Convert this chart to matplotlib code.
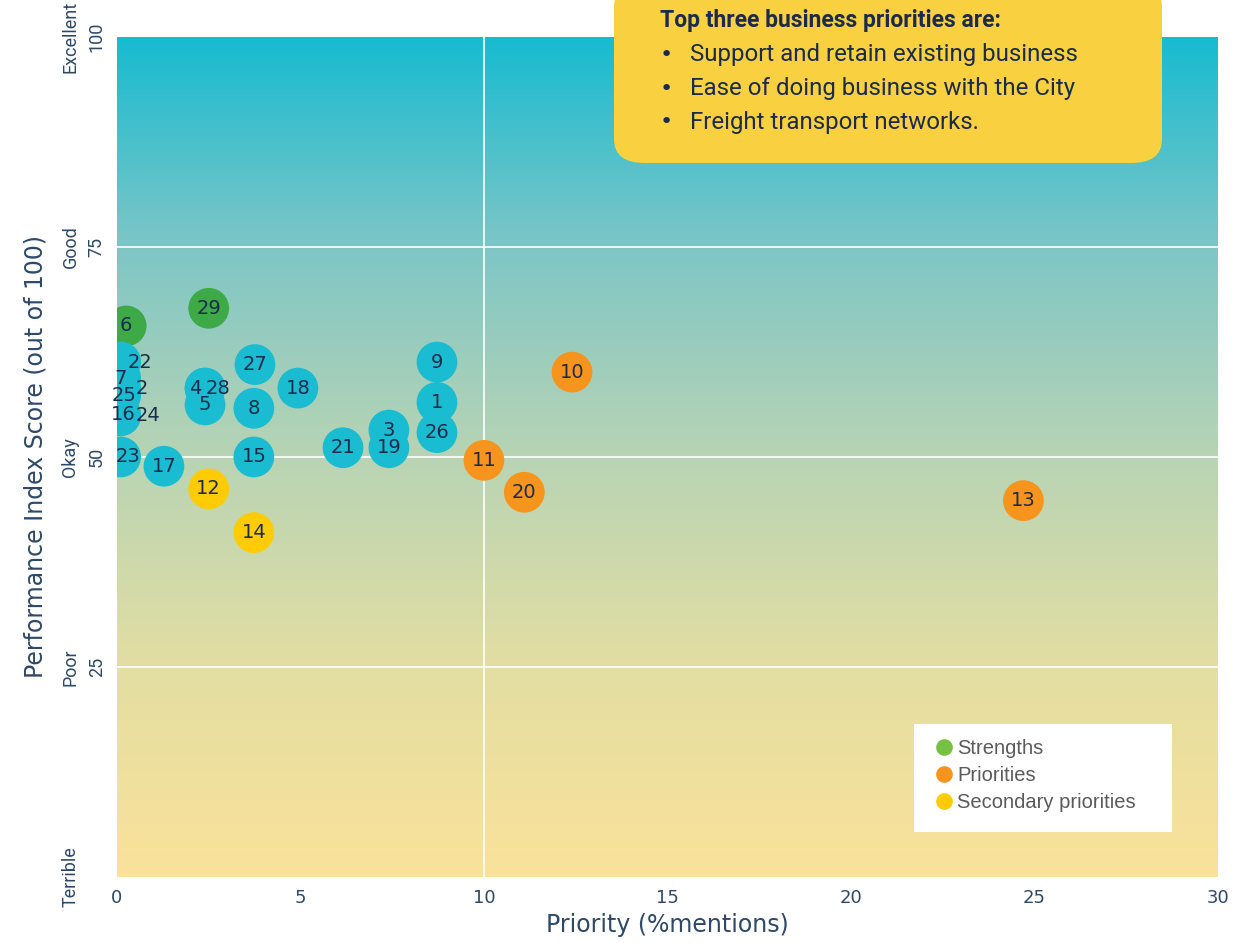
import matplotlib
matplotlib.use('Agg')
import matplotlib.pyplot as plt
import numpy as np
from matplotlib.colors import LinearSegmentedColormap
from matplotlib.patches import FancyBboxPatch, Rectangle
from matplotlib.lines import Line2D

# Data
ids = [1, 2, 3, 4, 5, 6, 7, 8, 9, 10, 11, 12, 13, 14, 15,
       16, 17, 18, 19, 20, 21, 22, 23, 24, 25, 26, 27, 28, 29]
priority = [8.72, 0.1, 7.41, 2.4, 2.4, 0.25, 0.1, 3.73, 8.72, 12.4, 10.0, 2.5, 24.7, 3.73, 3.73,
            0.1, 1.28, 4.93, 7.41, 11.1, 6.16, 0.1, 0.1, 0.1, 0.1, 8.72, 3.76, 2.4, 2.5]
score = [56.5, 58.2, 53.2, 58.2, 56.2, 65.6, 59.4, 55.8, 61.3, 60.1, 49.6, 46.2, 44.8, 41.0, 50.0,
         55.0, 48.9, 58.2, 51.1, 45.8, 51.1, 61.3, 50.0, 54.9, 57.3, 52.9, 61.0, 58.2, 67.7]
group = ['O', 'O', 'O', 'O', 'O', 'S', 'O', 'O', 'O', 'P', 'P', 'SP', 'P', 'SP', 'O',
         'O', 'O', 'O', 'O', 'P', 'O', 'O', 'O', 'O', 'O', 'O', 'O', 'O', 'S']

y_ticks = [0, 25, 50, 75, 100]
y_words = ['Terrible', 'Poor', 'Okay', 'Good', 'Excellent']
x_ticks = [0, 5, 10, 15, 20, 25, 30]

legend_labels = ['Strengths', 'Priorities', 'Secondary priorities']
box_title = 'Top three business priorities are:'
box_items = ['Support and retain existing business',
             'Ease of doing business with the City',
             'Freight transport networks.']

# styling
colors = {'O': '#19BCD1', 'S': '#3DAA47', 'P': '#F7941D', 'SP': '#FFCB05'}
legend_colors = ['#76C043', '#F7941D', '#FFCB05']
navy = '#1B2B4B'
axis_col = '#2D4868'
# label offsets (pixels) for crowded points
label_dx = {2: 21, 22: 19, 24: 27, 25: 3, 16: 3, 23: 7, 4: -10, 28: 13}

narrow = ['Roboto', 'DejaVu Sans']

fig = plt.figure(figsize=(12.39, 9.43), dpi=100)
ax = fig.add_axes([0.0944, 0.07, 0.8886, 0.8908])

# gradient background
cmap = LinearSegmentedColormap.from_list('bg', [
    (0.0, '#FAE29A'), (0.25, '#E3DEA2'), (0.5, '#B8D4B4'),
    (0.75, '#7EC6C6'), (1.0, '#17BBD1')])
grad = np.linspace(0, 1, 256).reshape(-1, 1)
ax.imshow(grad, extent=[0, 30, 0, 100], origin='lower', aspect='auto', cmap=cmap, zorder=0)

for yv in [25, 50, 75]:
    ax.axhline(yv, color='white', lw=1.2, zorder=1)
ax.axvline(10, color='white', lw=1.2, zorder=1)

cols = [colors[g] for g in group]
ax.scatter(priority, score, s=860, c=cols, edgecolors='none', zorder=2)

for i, x, y in zip(ids, priority, score):
    ax.annotate(str(i), (x, y), xytext=(label_dx.get(i, 0) * 0.72, 0), textcoords='offset points',
                ha='center', va='center', fontsize=14, color=navy, zorder=3,
                annotation_clip=False)

ax.set_xlim(0, 30)
ax.set_ylim(0, 100)
for s in ax.spines.values():
    s.set_visible(False)

ax.set_xticks(x_ticks)
ax.set_xticklabels([str(t) for t in x_ticks], fontsize=13, color=axis_col)
ax.set_yticks(y_ticks)
ylabs = [w + '\n' + (str(t) if t > 0 else ' ') for w, t in zip(y_words, y_ticks)]
ax.set_yticklabels(ylabs, rotation=90, va='center', ha='center', fontsize=13,
                   color=axis_col, family=narrow, linespacing=1.6)
ax.tick_params(axis='both', length=0)
ax.tick_params(axis='y', pad=24)
ax.tick_params(axis='x', pad=9)

ax.set_xlabel('Priority (%mentions)', fontsize=17, color=axis_col, labelpad=4)
ax.set_ylabel('Performance Index Score (out of 100)', fontsize=17, color=axis_col, labelpad=10)

# legend box
ax.add_patch(Rectangle((0.724, 0.0536), 0.234, 0.129, transform=ax.transAxes,
                       facecolor='white', edgecolor='none', zorder=4))
handles = [Line2D([], [], marker='o', ls='none', markersize=12, markerfacecolor=c,
                  markeredgecolor='none') for c in legend_colors]
leg = ax.legend(handles, legend_labels, loc='upper left', bbox_to_anchor=(0.733, 0.174),
                frameon=False, prop={'family': 'Liberation Sans', 'size': 14.5},
                handletextpad=0.05, labelspacing=0.4, handlelength=1.2, borderaxespad=0)
leg.set_zorder(5)
for t in leg.get_texts():
    t.set_color('#5A5A5A')

# callout box
fig.patches.append(FancyBboxPatch((614 / 1239, 1 - 163 / 943), 548 / 1239, 180 / 943,
                                  boxstyle='round,pad=0,rounding_size=0.025',
                                  transform=fig.transFigure, facecolor='#F9D040',
                                  edgecolor='none', zorder=10))
fig.text(660 / 1239, 1 - 20 / 943, box_title, fontsize=16.5, fontweight='bold', color=navy,
         family=narrow, va='center', zorder=11)
for k, item in enumerate(box_items):
    yy = 1 - (55 + 33.5 * k) / 943
    fig.text(666 / 1239, yy, '\u2022', fontsize=16, color=navy, va='center', ha='center', zorder=11)
    fig.text(690 / 1239, yy, item, fontsize=17.3, color=navy, family=narrow, va='center', zorder=11)

fig.savefig('out.png', dpi=100)
